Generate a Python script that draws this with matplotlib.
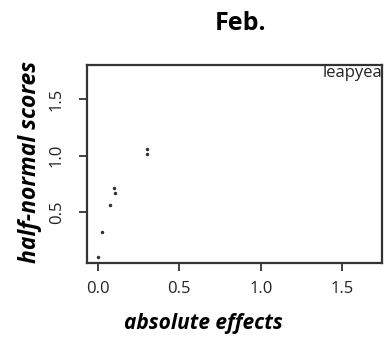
import matplotlib.pyplot as plt

# half-normal plot values
effects = [0.0, 0.028, 0.077, 0.10, 0.105, 0.30, 0.30]
scores = [0.10, 0.32, 0.56, 0.715, 0.665, 1.055, 1.01]
label_x = 1.585
label_y = 1.73
label_text = "leapyear"

plt.rcParams["font.family"] = ["Open Sans", "DejaVu Sans"]

fig = plt.figure(figsize=(3.87, 3.41), dpi=100)
ax = fig.add_axes([87 / 387, 1 - 263 / 341, (382 - 87) / 387, (263 - 65) / 341])

ax.plot(effects, scores, linestyle="none", marker=".", markersize=3, color="#333333")
ax.text(label_x, label_y, label_text, ha="center", va="center", fontsize=12,
        color="#222222", clip_on=True)

ax.set_xlim(-0.066, 1.744)
ax.set_ylim(0.05, 1.80)
ax.set_xticks([0.0, 0.5, 1.0, 1.5])
ax.set_yticks([0.5, 1.0, 1.5])
ax.set_xticklabels(["0.0", "0.5", "1.0", "1.5"])
ax.set_yticklabels(["0.5", "1.0", "1.5"], rotation=90, va="center")
ax.tick_params(direction="out", length=6, width=1.2, labelsize=12, colors="#222222")
ax.tick_params(axis="x", pad=7)
ax.tick_params(axis="y", pad=10)

for s in ax.spines.values():
    s.set_linewidth(1.6)
    s.set_color("#333333")

fig.text(241 / 387, 1 - 23 / 341, "Feb.", ha="center", va="center",
         fontsize=18, fontweight="bold")
fig.text(203 / 387, 1 - 323 / 341, "absolute effects", ha="center", va="center",
         fontsize=15, fontweight="bold", style="italic")
fig.text(30 / 387, 1 - 162 / 341, "half-normal scores", ha="center", va="center",
         rotation=90, fontsize=16.5, fontweight="bold", style="italic")

fig.savefig("out.png", dpi=100)
